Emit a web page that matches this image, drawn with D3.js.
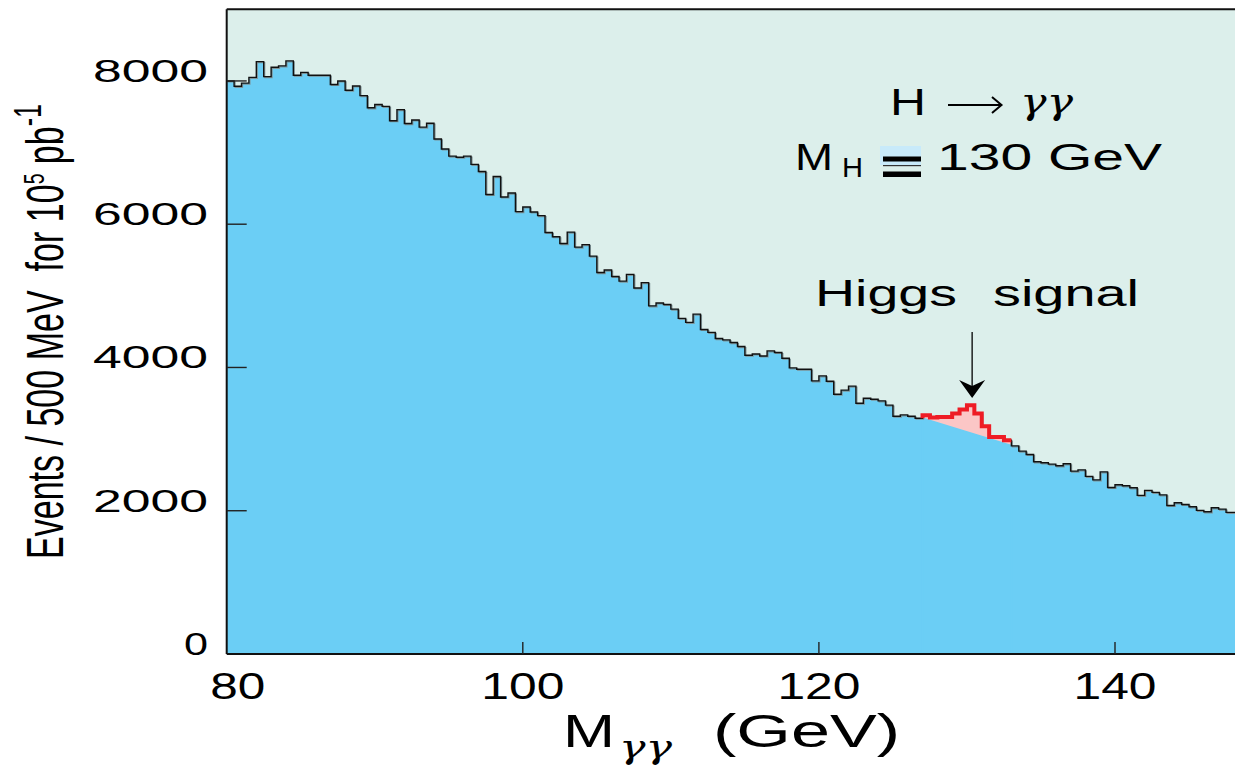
<!DOCTYPE html>
<html>
<head>
<meta charset="utf-8">
<script src="https://cdnjs.cloudflare.com/ajax/libs/d3/7.8.5/d3.min.js"></script>
<style>
body { margin: 0; background: #fff; }
svg text { font-family: "Liberation Sans", Arial, Helvetica, sans-serif; fill: #000; }
</style>
</head>
<body>
<div id="chart"></div>
<script>
// events per 500 MeV bin, starting at 80 GeV
var binStart = 80
var binWidth = 0.5
var events = [
	8000, 7925, 7970, 8050, 8270, 8060, 8190, 8210, 8280, 8080,
	8120, 8080, 8080, 8080, 7950, 8000, 7870, 7930, 7795, 7625,
	7670, 7645, 7445, 7600, 7405, 7455, 7355, 7410, 7190, 7050,
	6950, 6935, 6950, 6835, 6735, 6415, 6665, 6380, 6435, 6175,
	6240, 6170, 6120, 5885, 5825, 5730, 5890, 5680, 5715, 5555,
	5325, 5360, 5270, 5205, 5300, 5110, 5185, 4860, 4900, 4880,
	4815, 4685, 4630, 4745, 4530, 4490, 4404, 4385, 4348, 4292,
	4171, 4189, 4161, 4231, 4209, 4129, 3994, 3976, 3976, 3813,
	3882, 3808, 3627, 3683, 3739, 3501, 3571, 3557, 3534, 3474,
	3320, 3338, 3320, 3292, 3334, 3302, 3310, 3310, 3358, 3414,
	3474, 3358, 3181, 3031, 3031, 2985, 2906, 2832, 2786, 2683,
	2669, 2651, 2627, 2655, 2553, 2571, 2479, 2431, 2543, 2325,
	2362, 2348, 2320, 2214, 2284, 2256, 2222, 2074, 2111, 2088,
	2055, 2005, 1985, 2041, 2023, 1977, 1977
]
// bins carrying the higgs peak (first, last)
var signalBins = [94, 105]
// smooth background under the peak, at 127 and 133 GeV
var signalBackground = [[127, 3290], [133, 2910]]

var yTicks = [0, 2000, 4000, 6000, 8000]
var xTicks = [80, 100, 120, 140]

var WIDTH = 1235, HEIGHT = 766
var LEFT = 226.7, TOP = 9.3, BOTTOM = 654
var PX_PER_GEV = 14.805

var BG = "#dcefeb", BLUE = "#6bcef5", PINK = "#fbc6c6", RED = "#ee1c25"

var x = d3.scaleLinear().domain([80, 150]).range([LEFT, LEFT + 70 * PX_PER_GEV])
var y = d3.scaleLinear().domain([0, 9000]).range([BOTTOM, TOP])

function binPoints(from, to){
	var pts = []
	for(var i = from; i <= to; i++){
		pts.push([binStart + i * binWidth, events[i]])
	}
	pts.push([binStart + (to + 1) * binWidth, events[to]])
	return pts
}

// draw text scaled so its width and cap height match the picture
function stretchText(parent, str, x0, y0, w, capH, family){
	var size = capH / 0.716
	var t = parent.append("text")
		.attr("x", 0).attr("y", 0)
		.style("font-size", size + "px")
		.text(str)
	if(family) t.style("font-family", family)
	var len = t.node().getComputedTextLength()
	t.attr("transform", "translate(" + x0 + "," + y0 + ") scale(" + (w / len) + ",1)")
	return t
}

var svg = d3.select("#chart").append("svg")
	.attr("width", WIDTH)
	.attr("height", HEIGHT)

svg.append("defs").append("clipPath")
	.attr("id", "plotClip")
	.append("rect")
	.attr("x", LEFT).attr("y", TOP)
	.attr("width", WIDTH - LEFT).attr("height", BOTTOM - TOP)

svg.append("rect")
	.attr("x", LEFT).attr("y", TOP)
	.attr("width", WIDTH - LEFT).attr("height", BOTTOM - TOP)
	.attr("fill", BG)

var plot = svg.append("g").attr("clip-path", "url(#plotClip)")

var allPts = binPoints(0, events.length - 1)

var area = d3.area()
	.x(function(d){ return x(d[0]) })
	.y0(y(0))
	.y1(function(d){ return y(d[1]) })
	.curve(d3.curveStepAfter)

var stepLine = d3.line()
	.x(function(d){ return x(d[0]) })
	.y(function(d){ return y(d[1]) })
	.curve(d3.curveStepAfter)

plot.append("path")
	.datum(allPts)
	.attr("d", area)
	.attr("fill", BLUE)

// pink peak above the smooth background
plot.append("path")
	.datum(binPoints(signalBins[0], signalBins[1]))
	.attr("d", area)
	.attr("fill", PINK)
	.attr("shape-rendering", "crispEdges")

plot.append("path")
	.datum(signalBackground)
	.attr("d", d3.area()
		.x(function(d){ return x(d[0]) })
		.y0(y(0) + 2)
		.y1(function(d){ return y(d[1]) }))
	.attr("fill", BLUE)
	.attr("stroke", BLUE)
	.attr("stroke-width", 1.5)

// histogram outline, a faint shadow then the black line
plot.append("path")
	.datum(allPts)
	.attr("d", stepLine)
	.attr("fill", "none")
	.attr("stroke", "#7d9296")
	.attr("stroke-width", 1.2)
	.attr("transform", "translate(1,1)")

plot.append("path")
	.datum(allPts)
	.attr("d", stepLine)
	.attr("fill", "none")
	.attr("stroke", "#111")
	.attr("stroke-width", 1.4)

var redPts = binPoints(signalBins[0], signalBins[1])
redPts.unshift([redPts[0][0], events[signalBins[0] - 1]])
plot.append("path")
	.datum(redPts)
	.attr("d", stepLine)
	.attr("fill", "none")
	.attr("stroke", RED)
	.attr("stroke-width", 4)

// frame
svg.append("line")
	.attr("x1", LEFT).attr("x2", LEFT)
	.attr("y1", TOP).attr("y2", BOTTOM)
	.attr("stroke", "#111").attr("stroke-width", 2)
svg.append("line")
	.attr("x1", LEFT).attr("x2", WIDTH)
	.attr("y1", TOP).attr("y2", TOP)
	.attr("stroke", "#111").attr("stroke-width", 2)
svg.append("line")
	.attr("x1", LEFT).attr("x2", WIDTH)
	.attr("y1", BOTTOM).attr("y2", BOTTOM)
	.attr("stroke", "#111").attr("stroke-width", 2)

// ticks
svg.selectAll(".ytick")
	.data(yTicks.filter(function(d){ return d > 0 }))
	.enter()
	.append("line")
	.attr("class", "ytick")
	.attr("x1", LEFT).attr("x2", LEFT + 20)
	.attr("y1", function(d){ return y(d) })
	.attr("y2", function(d){ return y(d) })
	.attr("stroke", "#222").attr("stroke-width", 1.4)

svg.selectAll(".xtick")
	.data(xTicks.filter(function(d){ return d > 80 }))
	.enter()
	.append("line")
	.attr("class", "xtick")
	.attr("x1", function(d){ return x(d) })
	.attr("x2", function(d){ return x(d) })
	.attr("y1", BOTTOM).attr("y2", BOTTOM - 12)
	.attr("stroke", "#222").attr("stroke-width", 1.4)

// tick labels
yTicks.forEach(function(d){
	var w = (d == 0) ? 24 : 115
	stretchText(svg, String(d), 208 - w, y(d) + 1, w, 22)
})

xTicks.forEach(function(d){
	var w = (d == 80) ? 55 : 83
	var cx = (d == 80) ? x(d) + 11 : x(d)
	stretchText(svg, String(d), cx - w / 2, 699, w, 26)
})

// axis titles
stretchText(svg, "M", 563, 747, 52, 33)
stretchText(svg, "\u03b3\u03b3", 619, 758, 53, 22, "'DejaVu Serif', serif").style("font-style", "italic")
stretchText(svg, "(GeV)", 713, 747, 187, 33)

var yTitle = svg.append("text")
	.attr("x", 0).attr("y", 0)
	.style("font-size", "30px")
yTitle.append("tspan").text("Events / 500 MeV\u00a0\u00a0for 10")
yTitle.append("tspan").text("5").style("font-size", "17px").attr("dy", -11)
yTitle.append("tspan").text(" pb").attr("dy", 11)
yTitle.append("tspan").text("-1").style("font-size", "22px").attr("dy", -13)
var titleLen = yTitle.node().getComputedTextLength()
yTitle.attr("transform", "translate(63,559) rotate(-90) scale(" + (455 / titleLen) + "," + (37 / (0.716 * 30)) + ")")

// annotations
stretchText(svg, "H", 890, 115, 36, 27)
svg.append("line")
	.attr("x1", 948).attr("x2", 1001)
	.attr("y1", 105).attr("y2", 105)
	.attr("stroke", "#000").attr("stroke-width", 2)
svg.append("path")
	.attr("d", "M992,97 L1001.5,105 L992,113")
	.attr("fill", "none").attr("stroke", "#000").attr("stroke-width", 2)
stretchText(svg, "\u03b3\u03b3", 1020, 114, 53, 26, "'DejaVu Serif', serif").style("font-style", "italic")

stretchText(svg, "M", 795, 170, 38, 27)
stretchText(svg, "H", 842, 177, 21, 20)
svg.append("rect").attr("x", 880).attr("y", 146).attr("width", 41).attr("height", 19).attr("fill", "#c8eafa")
svg.append("rect").attr("x", 883).attr("y", 156.5).attr("width", 38).attr("height", 5).attr("fill", "#000")
svg.append("rect").attr("x", 883).attr("y", 165).attr("width", 38).attr("height", 1.2).attr("fill", "#333")
svg.append("rect").attr("x", 883).attr("y", 171.5).attr("width", 38).attr("height", 5.5).attr("fill", "#000")
stretchText(svg, "130 GeV", 937, 170, 225, 27)

stretchText(svg, "Higgs", 815, 306, 142, 27)
stretchText(svg, "signal", 993, 306, 146, 27)

var peakX = x(130.35)
svg.append("line")
	.attr("x1", peakX).attr("x2", peakX)
	.attr("y1", 332).attr("y2", 388)
	.attr("stroke", "#000").attr("stroke-width", 1.3)
svg.append("path")
	.attr("d", "M" + peakX + ",398 L" + (peakX - 13) + ",380 L" + peakX + ",386 L" + (peakX + 13) + ",380 Z")
	.attr("fill", "#000")
</script>
</body>
</html>
